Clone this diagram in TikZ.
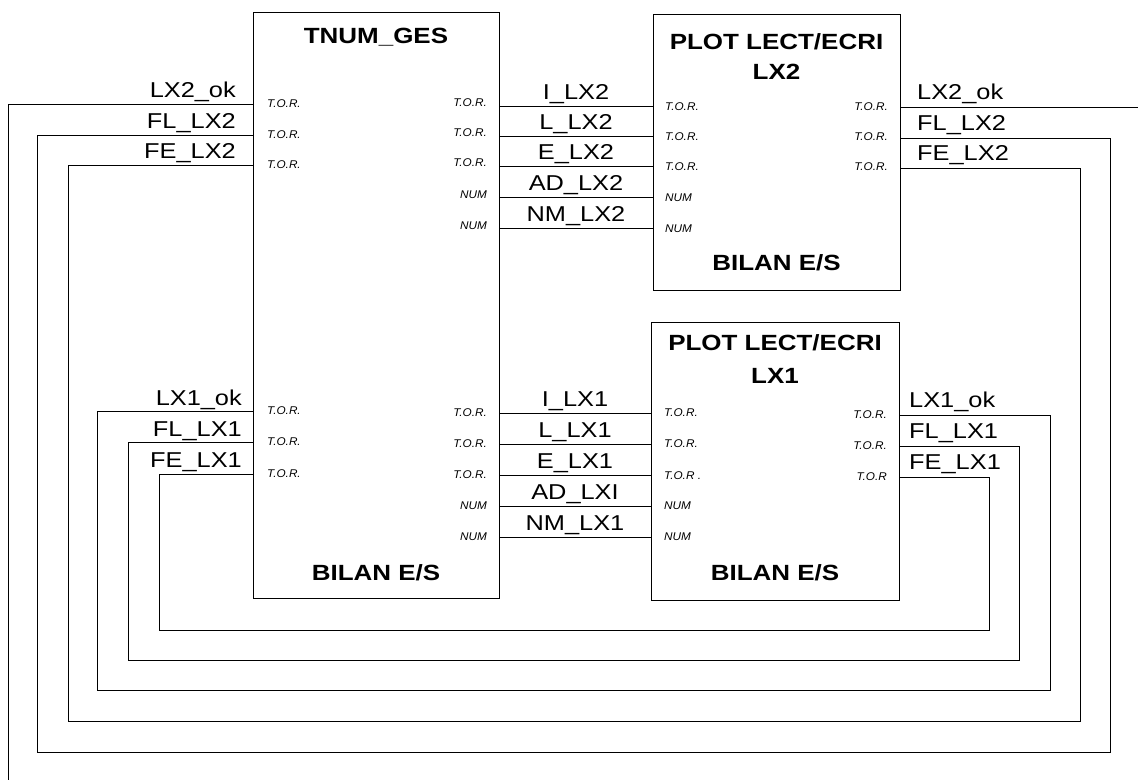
\documentclass[tikz,border=0pt]{standalone}
\usepackage{fontspec}
\setmainfont{Liberation Sans}
\newfontfamily\lblfont[FakeStretch=1.18]{Liberation Sans}
\newfontfamily\portfont[FakeStretch=1.05]{Liberation Sans}
\tikzset{
  box/.style={draw, line width=0.8pt, inner sep=0pt, anchor=north west},
  wire/.style={line width=0.9pt},
  sig/.style={font=\lblfont\fontsize{21.5}{22}\selectfont, inner sep=0pt},
  ttl/.style={font=\lblfont\bfseries\fontsize{22}{24}\selectfont, inner sep=0pt, anchor=base},
  port/.style={font=\portfont\itshape\fontsize{11.2}{12}\selectfont, inner sep=0pt},
}
\begin{document}
\begin{tikzpicture}[x=1pt,y=-1pt]
\useasboundingbox (0,0) rectangle (1138,780);
% boxes
\node[box, minimum width=246pt, minimum height=586pt] (tnum) at (253,12) {};
\node[box, minimum width=247pt, minimum height=276pt] (plot2) at (653,14) {};
\node[box, minimum width=248pt, minimum height=278pt] (plot1) at (651,322) {};
% titles
\node[ttl] (t1) at (376,43) {TNUM\_GES};
\node[ttl] (t2) at (376,580) {BILAN E/S};
\node[ttl] (t3) at (776.5,49) {PLOT LECT/ECRI};
\node[ttl] (t4) at (776.5,79) {LX2};
\node[ttl] (t5) at (776.5,270) {BILAN E/S};
\node[ttl] (t6) at (775,350) {PLOT LECT/ECRI};
\node[ttl] (t7) at (775,383) {LX1};
\node[ttl] (t8) at (775,580) {BILAN E/S};
% port coordinates: TNUM left
\coordinate (tl1) at (253,104);
\coordinate (tl2) at (253,135);
\coordinate (tl3) at (253,165);
\coordinate (tl4) at (253,411);
\coordinate (tl5) at (253,442);
\coordinate (tl6) at (253,474);
% TNUM right
\foreach \i/\y in {1/106,2/136,3/166,4/197,5/228,6/413,7/444,8/475,9/506,10/537}
  \coordinate (tr\i) at (499,\y);
% PLOT LX2 left / right
\foreach \i/\y in {1/106,2/136,3/166,4/197,5/228}
  \coordinate (pa\i) at (653,\y);
\coordinate (pra1) at (900,107);
\coordinate (pra2) at (900,138);
\coordinate (pra3) at (900,168);
% PLOT LX1 left / right
\foreach \i/\y in {1/413,2/444,3/475,4/506,5/537}
  \coordinate (pb\i) at (651,\y);
\coordinate (prb1) at (899,415);
\coordinate (prb2) at (899,446);
\coordinate (prb3) at (899,477);
% free ends
\coordinate (endL) at (8,780);
\coordinate (endR) at (1138,107);
% middle connectors
\foreach \i in {1,...,5} \draw[wire, line width=1pt] (tr\i) -- (pa\i);
\foreach \i in {1,...,5} \draw[wire, line width=1pt] (tr\the\numexpr\i+5\relax) -- (pb\i);
% loops
\draw[wire] (tl1) -| (endL);
\draw[wire] (pra1) -- (endR);
\draw[wire] (tl2) -| (37,752) -| (1110,138) -- (pra2);
\draw[wire] (tl3) -| (68,721) -| (1080,168) -- (pra3);
\draw[wire] (tl4) -| (97,690) -| (1050,415) -- (prb1);
\draw[wire] (tl5) -| (128,660) -| (1019,446) -- (prb2);
\draw[wire] (tl6) -| (159,630) -| (989,477) -- (prb3);
% signal labels left
\node[sig, anchor=base east] (s1) at (236,97) {LX2\_ok};
\node[sig, anchor=base east] (s2) at (236,128) {FL\_LX2};
\node[sig, anchor=base east] (s3) at (236,158) {FE\_LX2};
\node[sig, anchor=base east] (s4) at (242,405) {LX1\_ok};
\node[sig, anchor=base east] (s5) at (242,436) {FL\_LX1};
\node[sig, anchor=base east] (s6) at (242,467) {FE\_LX1};
% signal labels right
\node[sig, anchor=base west] (s7) at (917,99) {LX2\_ok};
\node[sig, anchor=base west] (s8) at (917,130) {FL\_LX2};
\node[sig, anchor=base west] (s9) at (917,160) {FE\_LX2};
\node[sig, anchor=base west] (s10) at (909,407) {LX1\_ok};
\node[sig, anchor=base west] (s11) at (909,438) {FL\_LX1};
\node[sig, anchor=base west] (s12) at (909,469) {FE\_LX1};
% middle labels
\node[sig, anchor=base] (m1) at (576,99) {I\_LX2};
\node[sig, anchor=base] (m2) at (576,129) {L\_LX2};
\node[sig, anchor=base] (m3) at (576,159) {E\_LX2};
\node[sig, anchor=base] (m4) at (576,190) {AD\_LX2};
\node[sig, anchor=base] (m5) at (576,221) {NM\_LX2};
\node[sig, anchor=base] (m6) at (575,406) {I\_LX1};
\node[sig, anchor=base] (m7) at (575,437) {L\_LX1};
\node[sig, anchor=base] (m8) at (575,468) {E\_LX1};
\node[sig, anchor=base] (m9) at (575,499) {AD\_LXI};
\node[sig, anchor=base] (m10) at (575,530) {NM\_LX1};
% port type labels
\foreach \y [count=\i] in {104,135,165,411,442,474}
  \node[port, anchor=west] (ptl\i) at (267,\y) {T.O.R.};
\foreach \y/\t [count=\i] in {103/T.O.R.,133/T.O.R.,163/T.O.R.,195/NUM,226/NUM,413/T.O.R.,444/T.O.R.,475/T.O.R.,506/NUM,537/NUM}
  \node[port, anchor=east] (ptr\i) at (487,\y) {\t};
\foreach \y/\t [count=\i] in {107/T.O.R.,137/T.O.R.,167/T.O.R.,198/NUM,229/NUM}
  \node[port, anchor=west] (pal\i) at (665,\y) {\t};
\foreach \y [count=\i] in {107,137,167}
  \node[port, anchor=east] (par\i) at (888,\y) {T.O.R.};
\foreach \y/\t [count=\i] in {413/T.O.R.,444/T.O.R.,476/T.O.R .,506/NUM,537/NUM}
  \node[port, anchor=west] (pbl\i) at (664,\y) {\t};
\foreach \y/\t [count=\i] in {415/T.O.R.,446/T.O.R.,477/T.O.R}
  \node[port, anchor=east] (pbr\i) at (887,\y) {\t};
\end{tikzpicture}
\end{document}
